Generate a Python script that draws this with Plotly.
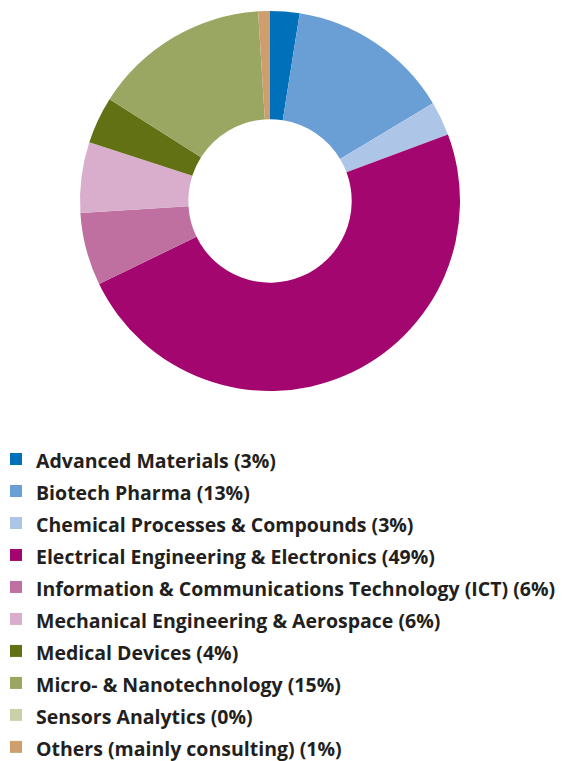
import plotly.graph_objects as go

categories = [
    "Advanced Materials",
    "Biotech Pharma",
    "Chemical Processes & Compounds",
    "Electrical Engineering & Electronics",
    "Information & Communications Technology (ICT)",
    "Mechanical Engineering & Aerospace",
    "Medical Devices",
    "Micro- & Nanotechnology",
    "Sensors Analytics",
    "Others (mainly consulting)",
]
values = [2.5, 13.9, 2.9, 48.5, 6.2, 6.0, 4.0, 15.0, 0.0, 1.0]
legend_pct = ["3%", "13%", "3%", "49%", "6%", "6%", "4%", "15%", "0%", "1%"]
colors = ["#0070BA", "#6A9FD6", "#ADC6E8", "#A3066F", "#BF6FA0",
          "#D9AECD", "#617114", "#9AA763", "#C9D1AA", "#CE9E6E"]

labels = [f'<span style="font-size:19.5px">{c} ({p})</span>' for c, p in zip(categories, legend_pct)]

# page body has an 8px margin; figure is sized to fit the window
OFF = 8
W, H = 572 - OFF, 761 - OFF
fig = go.Figure(go.Pie(
    labels=labels,
    values=values,
    marker=dict(colors=colors, line=dict(width=0)),
    hole=0.43,
    sort=False,
    direction="clockwise",
    rotation=0,
    textinfo="none",
    hoverinfo="label",
    domain=dict(x=[(80 - OFF) / W, (460 - OFF) / W],
                y=[(H - (391 - OFF)) / H, (H - (11 - OFF)) / H]),
))

fig.update_layout(
    width=W, height=H,
    margin=dict(l=0, r=0, t=0, b=0, autoexpand=False),
    paper_bgcolor="white",
    plot_bgcolor="white",
    showlegend=True,
    legend=dict(
        xref="paper", yref="paper",
        x=-12 / W, y=(H - 430) / H,
        xanchor="left", yanchor="top",
        font=dict(family="Open Sans", size=22.3, color="#231F20", weight="bold"),
        bgcolor="rgba(0,0,0,0)",
        itemclick=False, itemdoubleclick=False,
    ),
)

fig.write_html("out.html")
